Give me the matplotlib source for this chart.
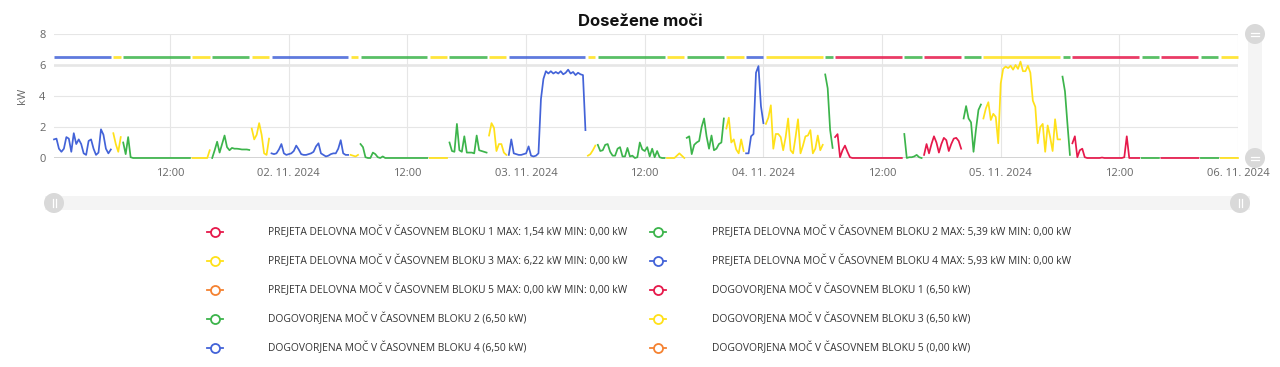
import numpy as np
import matplotlib
matplotlib.use("Agg")
import matplotlib.pyplot as plt
from matplotlib.lines import Line2D
from matplotlib.patches import Circle, Rectangle
from matplotlib.transforms import Affine2D

# ---------------- data (15-minute values, timestamps at interval end) ----------------
nov01 = ([1.2, 1.25, 0.6, 0.4, 0.6, 1.35, 1.25, 0.4, 1.6, 0.9, 1.2, 0.9, 0.3, 0.2, 1.1, 1.2,
          0.6, 0.2, 0.35, 1.85, 1.5, 0.6, 0.3, 0.55] +
         [1.6, 0.9, 0.4, 1.35] +
         [1.0, 0.25, 1.35, 0.05] + [0.0] * 24 +
         [0.0] * 7 + [0.5] +
         [0.0, 0.5, 1.05, 0.35, 0.9, 1.45, 0.7, 0.5, 0.65, 0.6, 0.6, 0.58, 0.55, 0.55, 0.55, 0.52] +
         [1.9, 1.2, 1.5, 2.25, 1.5, 0.3, 0.2, 1.25] +
         [0.3, 0.25, 0.3, 0.55, 0.9, 0.3, 0.2, 0.25])
nov02 = ([0.3, 0.45, 0.8, 0.55, 0.25, 0.2, 0.2, 0.25, 0.3, 0.4, 0.75, 0.95, 0.3, 0.2, 0.1, 0.15,
          0.25, 0.3, 0.3, 0.6, 1.15, 0.3, 0.2, 0.2] +
         [0.2, 0.15, 0.1, 0.2] +
         [0.9, 0.7, 0.05, 0.0, 0.0, 0.35, 0.25, 0.05, 0.0, 0.1] + [0.0] * 18 +
         [0.0] * 8 +
         [1.0, 0.45, 0.4, 2.2, 0.5, 0.4, 1.4, 0.35, 0.35, 0.35, 0.3, 1.45, 0.5, 0.45, 0.4, 0.35] +
         [1.45, 2.25, 1.95, 0.45, 0.9, 0.9, 0.35, 0.2] +
         [0.2, 1.2, 0.3, 0.25, 0.2, 0.2, 0.25, 0.3])
nov03 = ([0.75, 0.15, 0.1, 0.15, 0.3, 3.8, 5.1, 5.6, 5.45, 5.6, 5.45, 5.55, 5.45, 5.6, 5.4, 5.5,
          5.7, 5.45, 5.55, 5.35, 5.5, 5.4, 5.35, 1.8] +
         [0.15, 0.25, 0.5, 0.8] +
         [0.85, 0.45, 0.5, 0.85, 0.9, 0.4, 0.15, 0.15, 0.6, 0.7, 0.1, 0.1, 0.65, 0.1, 0.15, 0.0,
          0.05, 1.0, 0.55, 0.45, 0.7, 0.1, 0.6, 0.05, 0.45, 0.05, 0.0, 0.0] +
         [0.0, 0.0, 0.0, 0.0, 0.15, 0.3, 0.15, 0.0] +
         [1.3, 1.4, 0.25, 0.85, 1.0, 1.1, 2.0, 2.55, 1.4, 0.6, 1.45, 0.5, 0.6, 0.9, 1.0, 2.55] +
         [1.9, 2.6, 1.0, 1.2, 0.55, 0.3, 1.2, 0.45] +
         [0.3, 0.3, 1.4, 1.55, 5.5, 5.93, 3.35, 2.25])
nov04 = ([2.2, 2.6, 3.4, 0.6, 1.55, 1.55, 1.35, 0.5, 1.35, 2.55, 0.5, 0.3, 1.35, 2.5, 0.3, 0.8,
          1.4, 1.45, 1.8, 0.3, 0.6, 1.45, 0.5, 0.85] +
         [5.39, 4.5, 1.8, 0.65] +
         [1.35, 1.54, 0.05, 0.5, 0.8, 0.4, 0.05] + [0.0] * 21 +
         [1.55, 0.0, 0.05, 0.05, 0.1, 0.2, 0.05, 0.0] +
         [0.2, 0.9, 0.3, 0.9, 1.4, 1.0, 0.35, 0.9, 1.3, 1.15, 0.45, 0.9, 1.25, 1.3, 1.1, 0.6] +
         [2.55, 3.35, 2.55, 2.3, 0.4, 1.85, 3.1, 3.45] +
         [2.55, 3.2, 3.6, 2.45, 2.85, 2.65, 0.95, 4.8])
nov05 = ([5.75, 5.9, 5.8, 5.95, 5.7, 6.0, 5.75, 6.22, 5.6, 5.6, 5.95, 5.5, 3.7, 3.3, 0.95, 2.0,
          2.2, 0.4, 2.1, 1.35, 0.45, 2.5, 1.2, 1.2] +
         [5.25, 4.3, 2.2, 0.2] +
         [0.95, 1.4, 0.05, 0.5, 0.6, 0.05, 0.0, 0.0, 0.0, 0.0, 0.0, 0.0, 0.03, 0.0, 0.0, 0.0,
          0.0, 0.0, 0.0, 0.0, 0.0, 0.05, 1.4, 0.0, 0.0, 0.0, 0.0, 0.0] +
         [0.0] * 8 + [0.0] * 16 + [0.0] * 8 + [0.0] * 8)

day_types = ["nonworking", "nonworking", "nonworking", "working", "working"]  # 01.11. (holiday) .. 05.11.
blocks_nonworking = [4] * 6 + [3] + [2] * 7 + [3] * 2 + [2] * 4 + [3] * 2 + [4] * 2
blocks_working = [3] * 6 + [2] + [1] * 7 + [2] * 2 + [1] * 4 + [2] * 2 + [3] * 2
contract_kw = [6.50, 6.50, 6.50, 6.50, 0.00]  # blocks 1..5

tick_labels = ["12:00", "02. 11. 2024", "12:00", "03. 11. 2024", "12:00", "04. 11. 2024",
               "12:00", "05. 11. 2024", "12:00", "06. 11. 2024"]

legend_labels = [
    "PREJETA DELOVNA MOČ V ČASOVNEM BLOKU 1 MAX: 1,54 kW MIN: 0,00 kW",
    "PREJETA DELOVNA MOČ V ČASOVNEM BLOKU 2 MAX: 5,39 kW MIN: 0,00 kW",
    "PREJETA DELOVNA MOČ V ČASOVNEM BLOKU 3 MAX: 6,22 kW MIN: 0,00 kW",
    "PREJETA DELOVNA MOČ V ČASOVNEM BLOKU 4 MAX: 5,93 kW MIN: 0,00 kW",
    "PREJETA DELOVNA MOČ V ČASOVNEM BLOKU 5 MAX: 0,00 kW MIN: 0,00 kW",
    "DOGOVORJENA MOČ V ČASOVNEM BLOKU 1 (6,50 kW)",
    "DOGOVORJENA MOČ V ČASOVNEM BLOKU 2 (6,50 kW)",
    "DOGOVORJENA MOČ V ČASOVNEM BLOKU 3 (6,50 kW)",
    "DOGOVORJENA MOČ V ČASOVNEM BLOKU 4 (6,50 kW)",
    "DOGOVORJENA MOČ V ČASOVNEM BLOKU 5 (0,00 kW)",
]
legend_blocks = [1, 2, 3, 4, 5, 1, 2, 3, 4, 5]

block_colors = {1: "#e6194B", 2: "#3cb44b", 3: "#ffe119", 4: "#4363d8", 5: "#f58231"}

# ---------------- derived arrays ----------------
power = np.array(nov01 + nov02 + nov03 + nov04 + nov05, dtype=float)
n = len(power)
t_hours = (np.arange(n) + 1) * 0.25
block = np.array([
    (blocks_working if day_types[k // 96] == "working" else blocks_nonworking)[(k % 96) // 4]
    for k in range(n)
])

# ---------------- figure ----------------
W, H = 1280, 367
plt.rcParams['font.family'] = ['Open Sans', 'DejaVu Sans']
fig = plt.figure(figsize=(W / 100, H / 100), dpi=100)
fig.patch.set_facecolor("white")
px = Affine2D().scale(1 / W, -1 / H).translate(0, 1) + fig.transFigure

L, R, T, B = 54, 1238, 34, 158
ax = fig.add_axes([L / W, 1 - B / H, (R - L) / W, (B - T) / H])
ax.set_facecolor("white")

for b in range(1, 6):
    y = np.where(block == b, power, np.nan)
    ax.plot(t_hours, y, color=block_colors[b], lw=1.25, solid_joinstyle="round",
            zorder=4, clip_on=False)
    c = np.where(block == b, contract_kw[b - 1], np.nan)
    ax.plot(t_hours, c, color=block_colors[b], lw=2.0, alpha=0.85, solid_capstyle="butt",
            zorder=3, clip_on=False)

ax.set_xlim(0.25, 120)
ax.set_ylim(0, 8)
ax.set_yticks([0, 2, 4, 6, 8])
ax.set_xticks(np.arange(1, len(tick_labels) + 1) * 12)
ax.set_xticklabels(tick_labels)
ax.grid(True, color="#e6e6e6", lw=0.8, zorder=0)
ax.axhline(6, color="#e9e9e9", lw=2.0, zorder=1)
ax.axhline(0, color="#d3d3d3", lw=1.4, zorder=2)
for s in ax.spines.values():
    s.set_visible(False)
ax.tick_params(axis="both", length=0, colors="#666666", labelsize=8)
ax.tick_params(axis="y", pad=6)
ax.tick_params(axis="x", pad=7)

fig.text(22, 96, "kW", transform=px, rotation=90, ha="center", va="center",
         fontsize=8, color="#666666")
fig.text(640, 22, "Dosežene moči", transform=px, ha="center", va="center",
         fontsize=12, fontweight="bold", color="#111111", family=["Inter", "DejaVu Sans"])

# ---------------- scrollbars ----------------
fig.add_artist(Rectangle((45, 196), 1205, 14, transform=px, facecolor="#f4f4f4", edgecolor="none"))
for cx in (54, 1240):
    fig.add_artist(Circle((cx, 203), 10, transform=px, facecolor="#d9d9d9", edgecolor="none"))
    for dx in (-1.5, 1.5):
        fig.add_artist(Line2D([cx + dx, cx + dx], [199, 207], transform=px, color="white", lw=0.9))
fig.add_artist(Rectangle((1248, 34), 14, 124, transform=px, facecolor="#f4f4f4", edgecolor="none"))
for cy in (34, 158):
    fig.add_artist(Circle((1255, cy), 10, transform=px, facecolor="#d9d9d9", edgecolor="none"))
    for dy in (-1.5, 1.5):
        fig.add_artist(Line2D([1251, 1259], [cy + dy, cy + dy], transform=px, color="white", lw=0.9))

# ---------------- legend ----------------
col_marker_x = [215, 658]
col_text_x = [268, 712]
row_y = [232, 261, 290, 319, 348]
for i, (lab, b) in enumerate(zip(legend_labels, legend_blocks)):
    r, c = i // 2, i % 2
    mx, yy = col_marker_x[c], row_y[r]
    fig.add_artist(Line2D([mx - 8, mx + 8], [yy, yy], transform=px, color=block_colors[b], lw=1.3))
    fig.add_artist(Line2D([mx], [yy], transform=px, marker="o", markersize=6.5,
                          markerfacecolor="white", markeredgecolor=block_colors[b], markeredgewidth=1.3))
    fig.text(col_text_x[c], yy, lab, transform=px, ha="left", va="center", fontsize=7.35, color="#333333")

fig.savefig("out.png", dpi=100, facecolor="white")
